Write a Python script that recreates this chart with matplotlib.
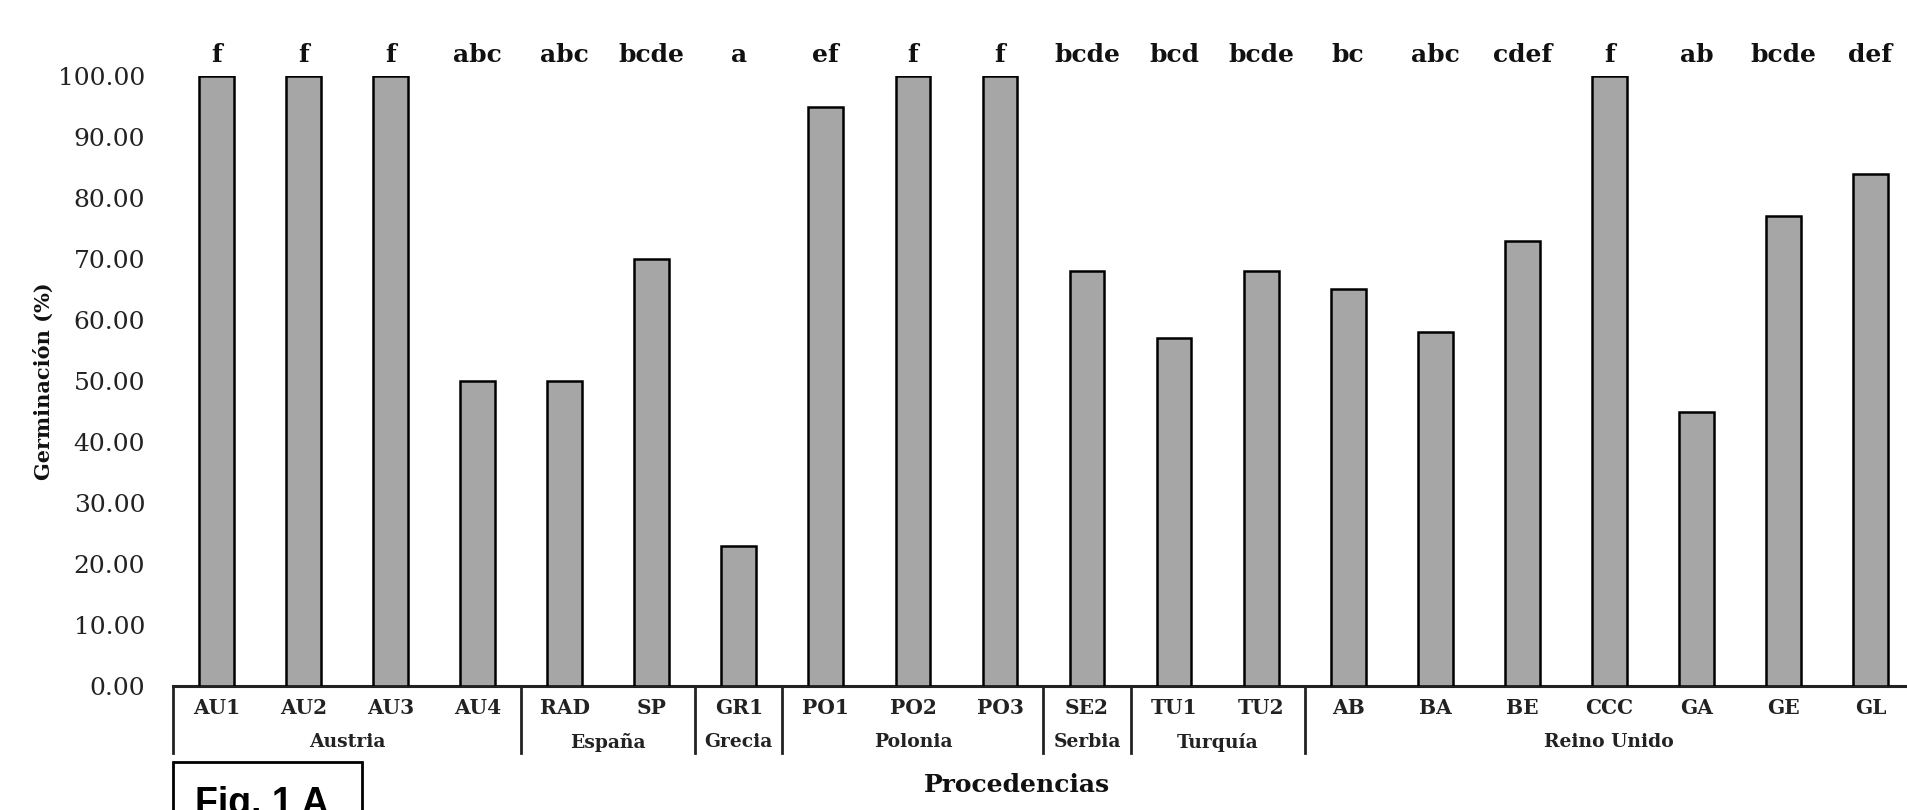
import matplotlib
matplotlib.use("Agg")
import matplotlib.pyplot as plt
import matplotlib.transforms as mtransforms
from matplotlib.patches import Rectangle
import numpy as np

categories = ['AU1', 'AU2', 'AU3', 'AU4', 'RAD', 'SP', 'GR1', 'PO1', 'PO2', 'PO3',
              'SE2', 'TU1', 'TU2', 'AB', 'BA', 'BE', 'CCC', 'GA', 'GE', 'GL']
germination = [100, 100, 100, 50, 50, 70, 23, 95, 100, 100,
               68, 57, 68, 65, 58, 73, 100, 45, 77, 84]
letters = ['f', 'f', 'f', 'abc', 'abc', 'bcde', 'a', 'ef', 'f', 'f',
           'bcde', 'bcd', 'bcde', 'bc', 'abc', 'cdef', 'f', 'ab', 'bcde', 'def']
groups = ['Austria', 'España', 'Grecia', 'Polonia', 'Serbia', 'Turquía', 'Reino Unido']
group_sizes = [4, 2, 1, 3, 1, 2, 7]
yticks = [0, 10, 20, 30, 40, 50, 60, 70, 80, 90, 100]

W, H = 1908, 810
fig = plt.figure(figsize=(W / 100, H / 100), dpi=100)
fig.patch.set_facecolor('white')

ax_left, ax_right, ax_bottom, ax_top = 173, 1914, 686, 76
ax = fig.add_axes([ax_left / W, (H - ax_bottom) / H,
                   (ax_right - ax_left) / W, (ax_bottom - ax_top) / H])

x = np.arange(len(categories))
ax.bar(x, germination, width=0.40, color='#a6a6a6', edgecolor='black', linewidth=1.8, zorder=3)

ax.set_xlim(-0.5, len(categories) - 0.5)
ax.set_ylim(0, 100)
ax.set_yticks(yticks)
ax.set_yticklabels([f'{v:.2f}' for v in yticks], family='DejaVu Serif', fontsize=18, color='#222222')
ax.tick_params(axis='y', length=0, pad=20)
ax.set_xticks([])
for s in ['top', 'right', 'left']:
    ax.spines[s].set_visible(False)
ax.spines['bottom'].set_linewidth(2.2)
ax.spines['bottom'].set_color('#222222')

trans = mtransforms.blended_transform_factory(ax.transData, ax.transAxes)
ax_h = ax_bottom - ax_top

# significance letters
for xi, lab in zip(x, letters):
    ax.text(xi, (ax_bottom - 62) / ax_h, lab, transform=trans, ha='center',
            va='baseline', family='DejaVu Serif', fontweight='bold', fontsize=18,
            color='#111111', clip_on=False)

# category labels
y_cat = -(708 - ax_bottom) / ax_h
for xi, lab in zip(x, categories):
    ax.text(xi, y_cat, lab, transform=trans, ha='center', va='center',
            family='DejaVu Serif', fontweight='bold', fontsize=14.5, color='#222222')

# group labels and separators
y_grp = -(742 - ax_bottom) / ax_h
y_sep = -(753 - ax_bottom) / ax_h
start = 0
bounds = [-0.5]
for g, n in zip(groups, group_sizes):
    center = start + (n - 1) / 2
    ax.text(center, y_grp, g, transform=trans, ha='center', va='center',
            family='DejaVu Serif', fontweight='bold', fontsize=13.5, color='#222222')
    start += n
    bounds.append(start - 0.5)
for b in bounds:
    ax.plot([b, b], [0, y_sep], transform=trans, color='#222222', lw=2.0, clip_on=False)

ax.text(9.2, -(785 - ax_bottom) / ax_h, 'Procedencias',
        transform=trans, ha='center', va='center', family='DejaVu Serif',
        fontweight='bold', fontsize=18, color='#111111')

# y label
fig.text(44 / W, 1 - 381 / H, 'Germinación (%)', rotation=90, ha='center', va='center',
         family='DejaVu Serif', fontweight='bold', fontsize=15, color='#111111')

# figure tag box (cut off at bottom)
fig.patches.append(Rectangle((173 / W, -0.05), (362 - 173) / W, (H - 762) / H + 0.05,
                             transform=fig.transFigure, fill=False, edgecolor='black',
                             linewidth=2.0))
fig.text(195 / W, -4 / H, 'Fig. 1 A', ha='left', va='baseline',
         family='Liberation Sans', fontweight='bold', fontsize=27, color='black')

fig.savefig('out.png', dpi=100, facecolor='white')
